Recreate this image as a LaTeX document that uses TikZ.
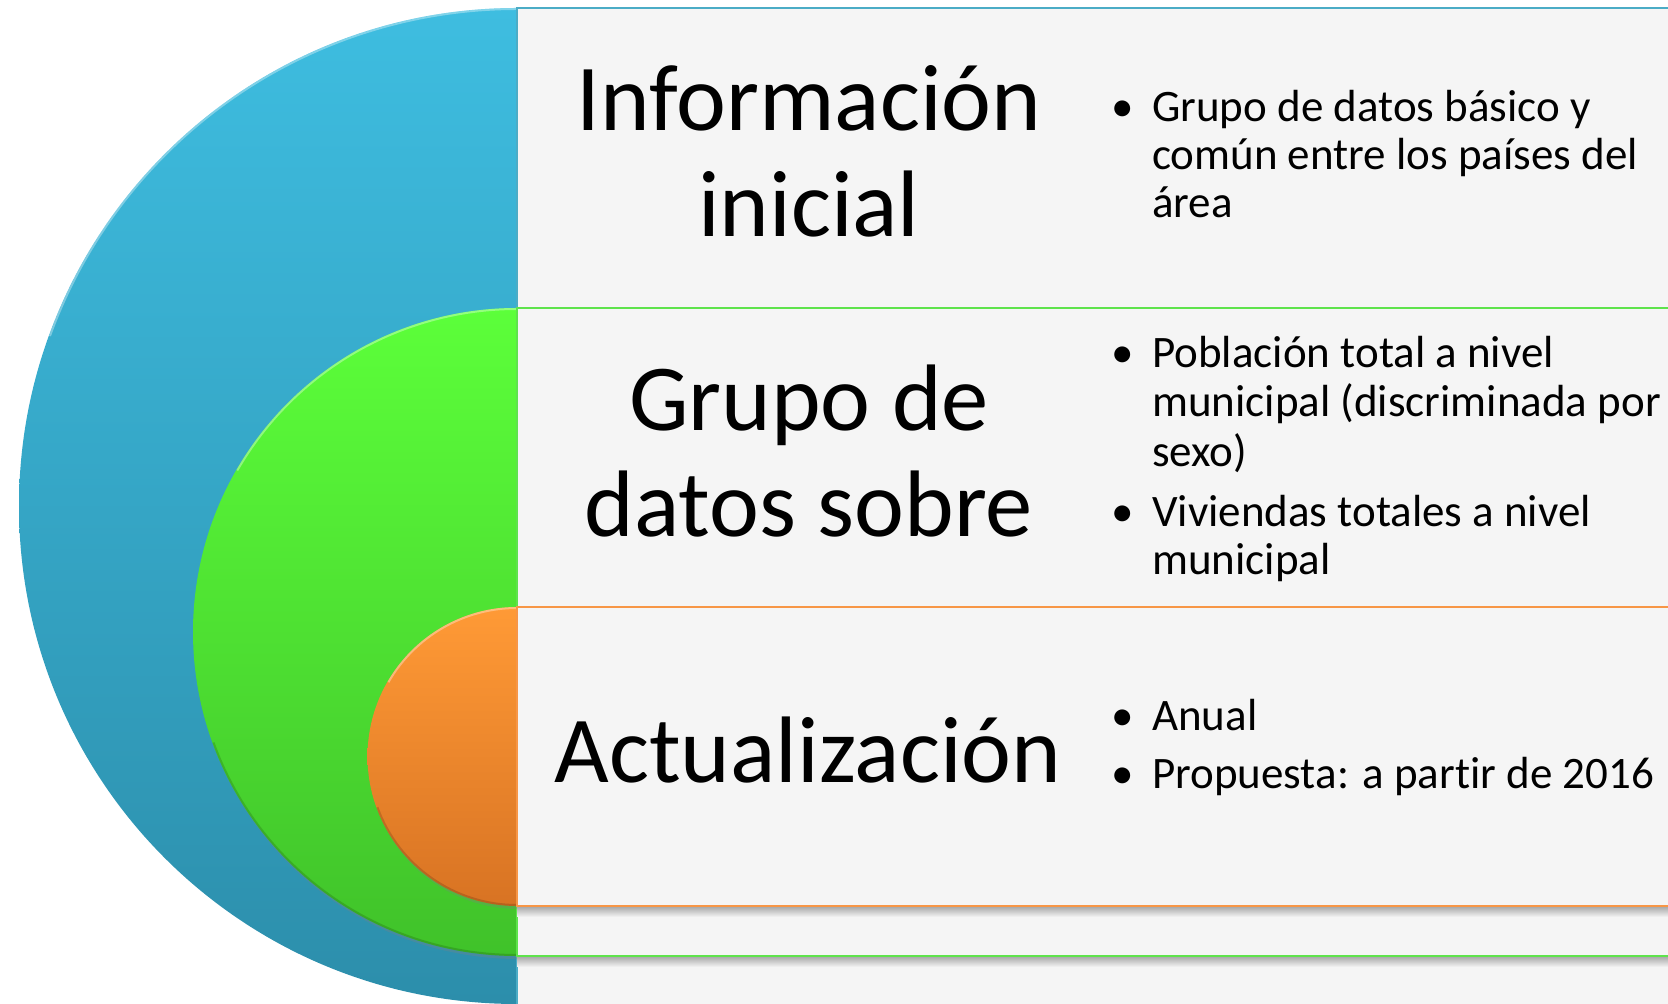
\documentclass[tikz,border=0pt]{standalone}
\usepackage{fontspec}
\setmainfont{Carlito}[RawFeature={-liga;-clig;-calt;-rlig;-dlig}]
\usetikzlibrary{shadows}
\definecolor{bgfill}{HTML}{F5F5F5}
\definecolor{blueT}{HTML}{3EBDE0}
\definecolor{blueB}{HTML}{2C8EAB}
\definecolor{blueL}{HTML}{4BACC6}
\definecolor{greenT}{HTML}{5CFF3A}
\definecolor{greenB}{HTML}{40C22A}
\definecolor{greenL}{HTML}{5EE34C}
\definecolor{orangeT}{HTML}{FF9A36}
\definecolor{orangeB}{HTML}{D87323}
\definecolor{orangeL}{HTML}{F79646}
\begin{document}
\begin{tikzpicture}[x=1pt,y=1pt,
  title/.style={font=\fontsize{94.5}{106}\selectfont, inner sep=0pt, anchor=base, text=black},
  item/.style={font=\fontsize{45}{49}\selectfont, inner sep=0pt, anchor=base west, text=black},
  dot/.style={font=\fontsize{45}{49}\selectfont, inner sep=0pt, anchor=base, text=black},
  band/.style={fill=bgfill, line width=2.2pt},
  semishadow/.style={drop shadow={shadow xshift=1.5pt, shadow yshift=-3pt, opacity=0.3}},
  bandshadow/.style={top color=black!30!bgfill, bottom color=bgfill}]
\useasboundingbox (0,0) rectangle (1668,1004);
\clip (0,0) rectangle (1668,1004);

% ---- blue level ----
\shade[top color=blueT, bottom color=blueB]
  (517,996) arc[start angle=90, end angle=270, radius=498] -- cycle;
\draw[line width=2pt, white, opacity=0.35]
  (517,995) arc[start angle=90, end angle=160, radius=497];
\draw[band, draw=blueL] (517,-20) rectangle (1700,996);

% ---- green level ----
\shade[top color=greenT, bottom color=greenB, semishadow]
  (517,696) arc[start angle=90, end angle=270, radius=324] -- cycle;
\draw[line width=2pt, white, opacity=0.35]
  (517,695) arc[start angle=90, end angle=150, radius=323];
\draw[line width=2pt, black, opacity=0.15]
  (517,49) arc[start angle=270, end angle=200, radius=323];
\shade[bandshadow] (517,37) rectangle (1700,47);
\draw[band, draw=greenL] (517,48) rectangle (1700,696);

% ---- orange level ----
\shade[top color=orangeT, bottom color=orangeB, semishadow]
  (517,397) arc[start angle=90, end angle=270, radius=149.5] -- cycle;
\draw[line width=2pt, white, opacity=0.35]
  (517,396) arc[start angle=90, end angle=150, radius=148.5];
\draw[line width=2pt, black, opacity=0.15]
  (517,99) arc[start angle=270, end angle=200, radius=148.5];
\shade[bandshadow] (517,87) rectangle (1700,97);
\draw[band, draw=orangeL] (517,98) rectangle (1700,397);

% ---- titles ----
\node[title] (t1a) at (809,873) {Información};
\node[title] (t1b) at (809,767) {inicial};
\node[title] (t2a) at (809,573) {Grupo de};
\node[title] (t2b) at (809,467) {datos sobre};
\node[title] (t3)  at (808,221) {Actualización};

% ---- bullets ----
\node[dot] (d1) at (1123,882) {•};
\node[item] (b1a) at (1152,882) {Grupo de datos básico y};
\node[item] (b1b) at (1152,834) {común entre los países del};
\node[item] (b1c) at (1152,786) {área};

\node[dot] (d2) at (1123,636) {•};
\node[item] (b2a) at (1152,636) {Población total a nivel};
\node[item] (b2b) at (1152,587) {municipal (discriminada por};
\node[item] (b2c) at (1152,537) {sexo)};

\node[dot] (d3) at (1123,477) {•};
\node[item] (b3a) at (1152,477) {Viviendas totales a nivel};
\node[item] (b3b) at (1152,429) {municipal};

\node[dot] (d4) at (1123,273) {•};
\node[item] (b4a) at (1152,273) {Anual};
\node[dot] (d5) at (1123,215) {•};
\node[item] (b4b) at (1152,215) {Propuesta: a partir de 2016};
\end{tikzpicture}
\end{document}
